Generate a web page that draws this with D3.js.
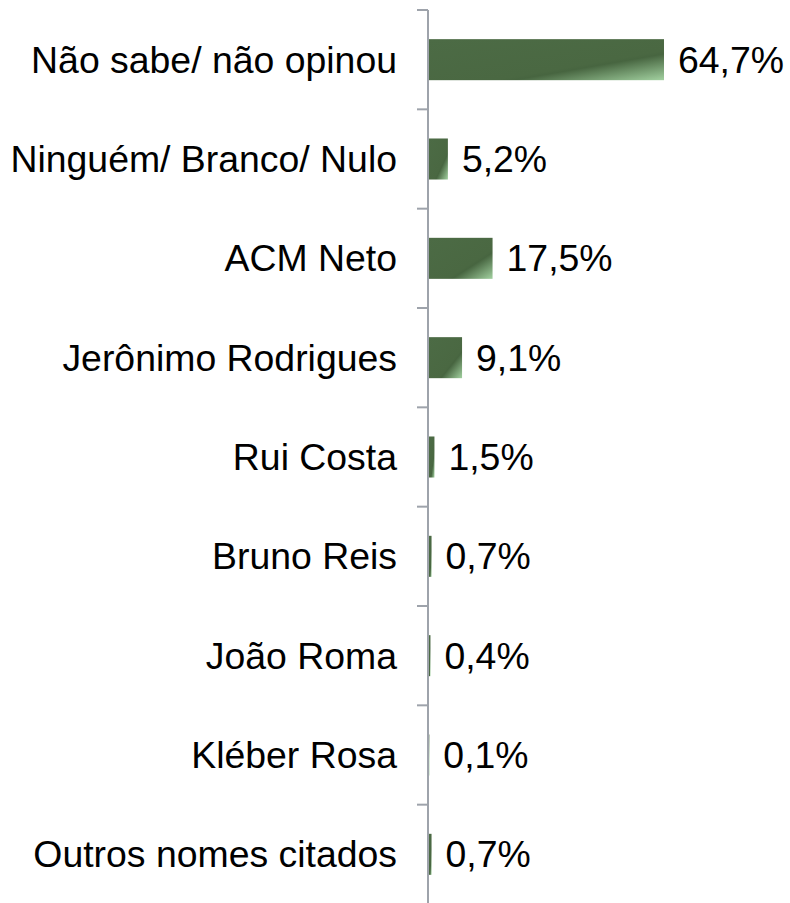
<!DOCTYPE html>
<html>
<head>
<meta charset="utf-8">
<script src="https://cdn.jsdelivr.net/npm/d3@7"></script>
<style>
  body { margin: 0; background: #fff; }
  text { font-family: "Liberation Sans", Arial, sans-serif; fill: #000; }
</style>
</head>
<body>
<script>
"use strict";

// data
const categories = [
  'Não sabe/ não opinou',
  'Ninguém/ Branco/ Nulo',
  'ACM Neto',
  'Jerônimo Rodrigues',
  'Rui Costa',
  'Bruno Reis',
  'João Roma',
  'Kléber Rosa',
  'Outros nomes citados'
];
const values = [64.7, 5.2, 17.5, 9.1, 1.5, 0.7, 0.4, 0.1, 0.7];
const valueLabels = ['64,7%', '5,2%', '17,5%', '9,1%', '1,5%', '0,7%', '0,4%', '0,1%', '0,7%'];

const width = 790;
const height = 903;
const axisX = 428;
const fontSize = 37.4;

const svg = d3.select('body').append('svg')
  .attr('width', width)
  .attr('height', height);

const defs = svg.append('defs');
const grad = defs.append('linearGradient')
  .attr('id', 'barGrad')
  .attr('x1', 0).attr('y1', 0).attr('x2', 1).attr('y2', 1);
grad.append('stop').attr('offset', '0%').attr('stop-color', '#4c6b45');
grad.append('stop').attr('offset', '64%').attr('stop-color', '#4a6842');
grad.append('stop').attr('offset', '68%').attr('stop-color', '#476540');
grad.append('stop').attr('offset', '100%').attr('stop-color', '#a2d1a0');

const x = d3.scaleLinear().domain([0, 70]).range([axisX + 1, axisX + 1 + 70 * 3.632]);
const y = d3.scaleBand()
  .domain(categories)
  .range([10, 904])
  .paddingInner(0.587)
  .paddingOuter(0.2935);

const rows = categories.map((c, i) => ({ name: c, value: values[i], label: valueLabels[i] }));

// bars
svg.append('g').selectAll('rect')
  .data(rows)
  .join('rect')
  .attr('x', x(0))
  .attr('y', (d) => y(d.name))
  .attr('width', (d) => x(d.value) - x(0))
  .attr('height', y.bandwidth())
  .attr('fill', 'url(#barGrad)');

// axis line and ticks at band boundaries
const step = y.step();
const axis = svg.append('g').attr('stroke', '#9ea3ab').attr('stroke-width', 2);
axis.append('line')
  .attr('x1', axisX).attr('x2', axisX)
  .attr('y1', 10).attr('y2', 904);
axis.selectAll('line.tick')
  .data(d3.range(categories.length + 1))
  .join('line')
  .classed('tick', true)
  .attr('x1', axisX - 11).attr('x2', axisX)
  .attr('y1', (i) => 10 + i * step)
  .attr('y2', (i) => 10 + i * step);

// category labels
svg.append('g').selectAll('text')
  .data(rows)
  .join('text')
  .attr('x', 397)
  .attr('y', (d) => y(d.name) + y.bandwidth() / 2)
  .attr('dy', '0.35em')
  .attr('text-anchor', 'end')
  .style('font-size', fontSize + 'px')
  .text((d) => d.name);

// value labels
svg.append('g').selectAll('text')
  .data(rows)
  .join('text')
  .attr('x', (d) => x(d.value) + 14)
  .attr('y', (d) => y(d.name) + y.bandwidth() / 2)
  .attr('dy', '0.35em')
  .style('font-size', fontSize + 'px')
  .text((d) => d.label);
</script>
</body>
</html>
